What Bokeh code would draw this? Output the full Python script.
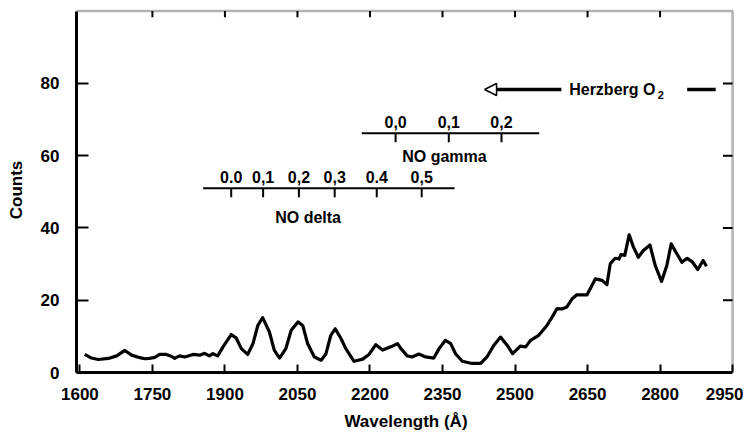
from bokeh.plotting import figure
from bokeh.models import (FixedTicker, Range1d, Arrow, NormalHead, Span, BoxAnnotation)
from bokeh.core.properties import value
from bokeh.embed import file_html
from bokeh.resources import INLINE

# ---------------- data ----------------
wavelength = [1610, 1624, 1638, 1659, 1676, 1693, 1707, 1724, 1734, 1744,
              1755, 1765, 1779, 1789, 1796, 1806, 1817, 1834, 1848, 1858,
              1868, 1875, 1885, 1896, 1913, 1923, 1934, 1947, 1958, 1968,
              1978, 1992, 2002, 2013, 2026, 2037, 2051, 2061, 2071, 2085,
              2099, 2109, 2119, 2128, 2140, 2150, 2167, 2185, 2198, 2212,
              2226, 2243, 2257, 2264, 2277, 2287, 2301, 2315, 2332, 2343,
              2356, 2367, 2377, 2391, 2411, 2429, 2442, 2456, 2470, 2484,
              2495, 2511, 2522, 2532, 2549, 2566, 2577, 2587, 2597, 2607,
              2618, 2628, 2649, 2659, 2666, 2680, 2690, 2697, 2707, 2715,
              2719, 2727, 2736, 2745, 2755, 2765, 2779, 2790, 2803, 2814,
              2823, 2835, 2845, 2856, 2866, 2878, 2889, 2896]
counts = [5.0, 4.0, 3.6, 3.9, 4.6, 6.1, 4.8, 4.1, 3.8, 3.9,
          4.2, 5.0, 5.0, 4.5, 3.9, 4.6, 4.3, 5.0, 4.8, 5.3,
          4.6, 5.2, 4.6, 7.1, 10.5, 9.6, 6.6, 5.0, 8.0, 13.0,
          15.2, 11.2, 6.2, 4.0, 6.6, 11.7, 14.0, 13.0, 8.0, 4.3,
          3.4, 5.2, 10.3, 12.1, 9.4, 6.6, 3.1, 3.7, 5.0, 7.7,
          6.2, 7.1, 8.0, 6.6, 4.6, 4.3, 5.1, 4.3, 4.0, 6.6,
          8.9, 8.0, 5.2, 3.1, 2.5, 2.5, 4.3, 7.5, 9.8, 7.5,
          5.2, 7.3, 7.1, 8.9, 10.3, 13.0, 15.4, 17.7, 17.6, 18.1,
          20.4, 21.5, 21.5, 24.1, 25.9, 25.5, 24.3, 30.1, 31.6, 31.4,
          32.6, 32.4, 38.1, 34.7, 31.9, 33.7, 35.3, 29.6, 25.2, 29.6,
          35.6, 32.8, 30.5, 31.6, 30.7, 28.5, 31.0, 29.4]

x_ticks = [1600, 1750, 1900, 2050, 2200, 2350, 2500, 2650, 2800, 2950]
y_ticks = [0, 20, 40, 60, 80]

# NO delta band positions (v',v'') and labels
delta_bands = [1913, 1979, 2053, 2127, 2214, 2307]
delta_labels = ["0.0", "0,1", "0,2", "0,3", "0.4", "0,5"]
delta_span = [1855, 2375]
delta_level = 51.0

# NO gamma band positions and labels
gamma_bands = [2253, 2363, 2472]
gamma_labels = ["0,0", "0,1", "0,2"]
gamma_span = [2183, 2550]
gamma_level = 66.2

# Herzberg O2 range indicator
herz_arrow = [2596, 2437]
herz_tail = [2856, 2915]
herz_level = 78.3

FONT = "Liberation Sans"
X_MIN, X_MAX = 1593, 2956
Y_MIN, Y_MAX = 0, 101
FRAME_X, FRAME_Y = 2950, 100   # right and top frame edges (data units)

p = figure(width=743, height=433, output_backend="svg", toolbar_location=None,
           x_range=Range1d(X_MIN, X_MAX), y_range=Range1d(Y_MIN, Y_MAX),
           min_border_left=76, min_border_right=8, min_border_top=7,
           min_border_bottom=10)
p.grid.visible = False
p.outline_line_color = None
p.background_fill_color = None
p.border_fill_color = None

# main axes
xa = p.xaxis[0]
xa.ticker = FixedTicker(ticks=x_ticks)
xa.axis_label = "Wavelength (Å)"
xa.bounds = (X_MIN, FRAME_X)
ya = p.yaxis[0]
ya.ticker = FixedTicker(ticks=y_ticks)
ya.axis_label = "Counts"
ya.bounds = (Y_MIN, FRAME_Y)
for ax in (xa, ya):
    ax.axis_line_width = 3
    ax.axis_line_color = "black"
    ax.major_tick_line_width = 2
    ax.major_tick_out = 0
    ax.minor_tick_line_color = None
    ax.major_label_text_font = FONT
    ax.major_label_text_font_style = "bold"
    ax.major_label_text_font_size = "17px"
    ax.major_label_text_color = "black"
    ax.axis_label_text_font = FONT
    ax.axis_label_text_font_style = "bold"
    ax.axis_label_text_font_size = "17px"
    ax.axis_label_text_color = "black"
xa.major_tick_in = 8
xa.major_label_standoff = 15
xa.axis_label_standoff = 9
ya.major_tick_in = 12
ya.major_label_standoff = 17
ya.axis_label_standoff = 12

# frame: top and right edges with inward ticks
p.add_layout(BoxAnnotation(left=X_MIN, right=FRAME_X, bottom=Y_MIN, top=FRAME_Y,
                           fill_color=None, line_color="black", line_width=2.5,
                           level="overlay"))
top_ticks = x_ticks[1:-1]
right_ticks = y_ticks[1:]
p.segment(x0=top_ticks, y0=[FRAME_Y] * len(top_ticks),
          x1=top_ticks, y1=[FRAME_Y - 1.7] * len(top_ticks),
          line_color="black", line_width=2)
p.segment(x0=[FRAME_X] * len(right_ticks), y0=right_ticks,
          x1=[FRAME_X - 20] * len(right_ticks), y1=right_ticks,
          line_color="black", line_width=2)

# spectrum
p.line(wavelength, counts, line_color="black", line_width=3.2, line_join="round")

# NO delta bar
p.segment(x0=[delta_span[0]], y0=[delta_level], x1=[delta_span[1]], y1=[delta_level],
          line_color="black", line_width=2)
p.segment(x0=delta_bands, y0=[delta_level] * len(delta_bands),
          x1=delta_bands, y1=[delta_level - 2.5] * len(delta_bands),
          line_color="black", line_width=2)
p.text(x=delta_bands, y=[delta_level] * len(delta_bands), text=delta_labels,
       text_align="center", text_baseline="bottom", y_offset=-5,
       text_font=value(FONT), text_font_style="bold", text_font_size="16px",
       text_color="black")
p.text(x=[2072], y=[delta_level], text=["NO delta"], text_align="center",
       text_baseline="middle", y_offset=29, text_font=value(FONT),
       text_font_style="bold", text_font_size="16px", text_color="black")

# NO gamma bar
p.segment(x0=[gamma_span[0]], y0=[gamma_level], x1=[gamma_span[1]], y1=[gamma_level],
          line_color="black", line_width=2)
p.segment(x0=gamma_bands, y0=[gamma_level] * len(gamma_bands),
          x1=gamma_bands, y1=[gamma_level - 2.5] * len(gamma_bands),
          line_color="black", line_width=2)
p.text(x=gamma_bands, y=[gamma_level] * len(gamma_bands), text=gamma_labels,
       text_align="center", text_baseline="bottom", y_offset=-5,
       text_font=value(FONT), text_font_style="bold", text_font_size="16px",
       text_color="black")
p.text(x=[2354], y=[gamma_level], text=["NO gamma"], text_align="center",
       text_baseline="middle", y_offset=23, text_font=value(FONT),
       text_font_style="bold", text_font_size="16px", text_color="black")

# Herzberg O2
p.add_layout(Arrow(end=NormalHead(size=12, fill_color="white", line_color="black",
                                  line_width=1.5),
                   x_start=herz_arrow[0], y_start=herz_level,
                   x_end=herz_arrow[1], y_end=herz_level,
                   line_color="black", line_width=3.5))
p.segment(x0=[herz_tail[0]], y0=[herz_level], x1=[herz_tail[1]], y1=[herz_level],
          line_color="black", line_width=3.5)
p.text(x=[2612], y=[herz_level], text=["Herzberg O"], text_align="left",
       text_baseline="middle", text_font=value(FONT), text_font_style="bold",
       text_font_size="16px", text_color="black")
p.text(x=[2795], y=[herz_level], text=["2"], text_align="left",
       text_baseline="middle", y_offset=5, text_font=value(FONT),
       text_font_style="bold", text_font_size="11px", text_color="black")

open("out.html", "w").write(file_html(p, INLINE))
